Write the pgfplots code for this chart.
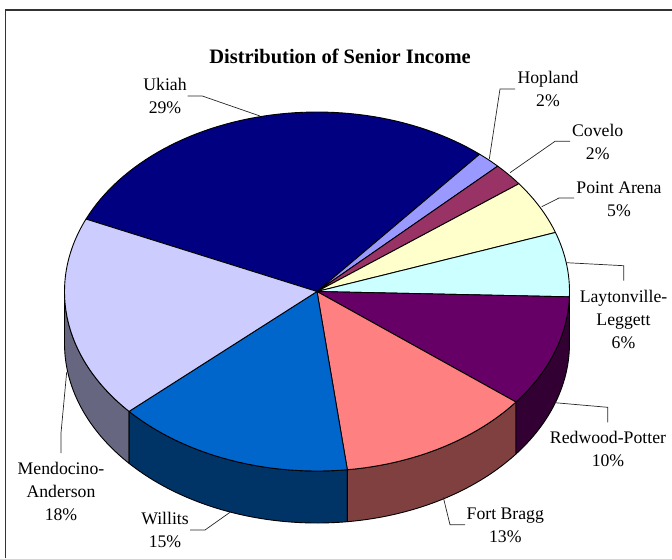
\documentclass[border=0pt]{standalone}
\usepackage{pgfplots}
\pgfplotsset{compat=1.18}
\usepackage{fontspec}
\setmainfont{Liberation Serif}

% slice colours: top faces and their darker rims
\definecolor{ukiah}{HTML}{000080}
\definecolor{hopland}{HTML}{9999FF}
\definecolor{covelo}{HTML}{993366}
\definecolor{pointarena}{HTML}{FFFFCC}
\definecolor{layton}{HTML}{CCFFFF}
\definecolor{redwood}{HTML}{660066}
\definecolor{fortbragg}{HTML}{FF8080}
\definecolor{willits}{HTML}{0066CC}
\definecolor{mendo}{HTML}{CCCCFF}
\definecolor{redwoodrim}{HTML}{330033}
\definecolor{fortbraggrim}{HTML}{804040}
\definecolor{willitsrim}{HTML}{003366}
\definecolor{mendorim}{HTML}{666680}

% pie geometry in picture units
\def\cx{317}
\def\cy{291.5}
\def\rx{252.5}
\def\ry{179.5}
\def\depth{52}

% top face of a slice running clockwise from #2 to #3 degrees
\newcommand{\slice}[3]{%
  \addplot[draw=black, line width=0.9pt, fill=#1, line join=round, domain=#2:#3, samples=60, variable=\t]
    ({\cx+\rx*cos(t)},{\cy-\ry*sin(t)}) -- (axis cs:\cx,\cy) -- cycle;}

% rim of a slice: along the upper arc (s up to 1), straight down at its end,
% back along the lower arc, then up again where cycle closes the outline
\newcommand{\rim}[3]{%
  \addplot[draw=black, line width=0.9pt, fill=#1, line join=round, domain=0:4, samples=201, variable=\s]
    ({\cx+\rx*cos(#2+(#3-#2)*max(0,min(1,min(s,3-s))))},
     {\cy+(s<=1.5 ? 0 : \depth)-\ry*sin(#2+(#3-#2)*max(0,min(1,min(s,3-s))))}) -- cycle;}

% leader line from a slice to its label
\newcommand{\leader}[1]{%
  \addplot[draw=black!85, line width=0.7pt] coordinates {#1};}

% two- and three-line slice labels
\newcommand{\slicelabel}[3]{%
  \node[align=center, inner sep=0pt, font=\fontsize{17.7}{23.3}\selectfont] at (axis cs:#1,#2) {#3};}

\begin{document}
\begin{tikzpicture}[x=1pt,y=1pt]
\useasboundingbox (0,0) rectangle (672pt,558pt);
\begin{axis}[
  at={(0,0)}, anchor=south west,
  scale only axis, width=672pt, height=558pt,
  xmin=0, xmax=672, ymin=0, ymax=558,
  y dir=reverse, hide axis, clip=false,
  trig format plots=deg,
]
% frame: top and left edges only
\addplot[draw=black!80, line width=1.5pt] coordinates {(5.7,558) (5.7,10) (672,10)};

% rims of the front slices, in degrees of the ellipse
\rim{mendorim}{-180}{-138.1}
\rim{willitsrim}{-138.1}{-83.1}
\rim{fortbraggrim}{-83.1}{-38.0}
\rim{redwoodrim}{-38.0}{-1.7}

% top faces; widths follow the shares
% 29.5, 1.6, 2.0, 4.9, 5.8, 10.1, 12.5, 15.3, 18.3 per cent
\slice{ukiah}{156.2}{49.9}
\slice{hopland}{49.9}{44.3}
\slice{covelo}{44.3}{36.9}
\slice{pointarena}{36.9}{19.2}
\slice{layton}{19.2}{-1.7}
\slice{redwood}{-1.7}{-38.0}
\slice{fortbragg}{-38.0}{-83.1}
\slice{willits}{-83.1}{-138.1}
\slice{mendo}{-138.1}{-203.8}

% leader lines
\leader{(187.7,96) (202.3,96) (260,116)}
\leader{(515,89) (500,89) (489.3,159)}
\leader{(570,141.3) (555,141.3) (510,172.7)}
\leader{(574,198) (559,198) (541.7,206.7)}
\leader{(566.7,262.7) (623.7,265.7) (623.7,280.7)}
\leader{(555,402.7) (607.7,407.3) (607.7,422.3)}
\leader{(443.3,497.3) (450,524.7) (465,524.7)}
\leader{(230,512.3) (205,530) (190,530)}
\leader{(66.7,372) (61,433) (61,453)}

% title and labels
\node[inner sep=0pt, font=\fontsize{20.5}{24}\selectfont\bfseries] at (axis cs:340,56) {Distribution of Senior Income};
\slicelabel{165}{96}{Ukiah\\29\%}
\slicelabel{548}{89}{Hopland\\2\%}
\slicelabel{597.7}{142}{Covelo\\2\%}
\slicelabel{619}{199}{Point Arena\\5\%}
\slicelabel{623.5}{319.5}{Laytonville-\\Leggett\\6\%}
\slicelabel{608}{449}{Redwood-Potter\\10\%}
\slicelabel{505.3}{525}{Fort Bragg\\13\%}
\slicelabel{165}{530}{Willits\\15\%}
\slicelabel{61}{491.5}{Mendocino-\\Anderson\\18\%}
\end{axis}
\end{tikzpicture}
\end{document}
